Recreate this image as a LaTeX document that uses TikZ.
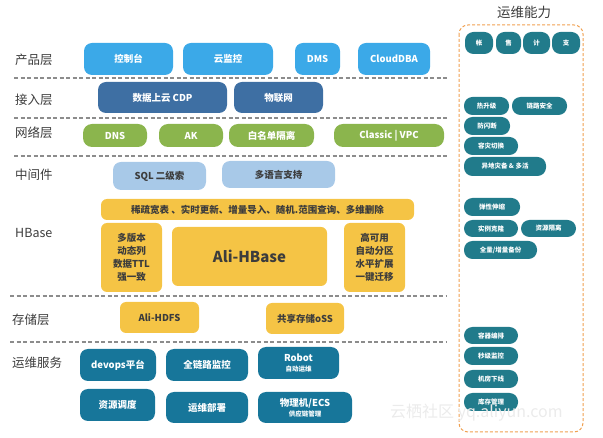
\documentclass[tikz,border=0pt]{standalone}
\usepackage{fontspec}
\setmainfont{Noto Sans CJK SC}
\usetikzlibrary{positioning}
\definecolor{cprod}{RGB}{59,169,232}
\definecolor{cacc}{RGB}{62,111,163}
\definecolor{cnet}{RGB}{139,181,77}
\definecolor{cmid}{RGB}{168,201,232}
\definecolor{cyel}{RGB}{245,196,69}
\definecolor{cops}{RGB}{23,118,154}
\definecolor{cright}{RGB}{33,123,139}
\definecolor{ctext}{RGB}{60,60,60}
\definecolor{cline}{RGB}{140,140,140}
\definecolor{corange}{RGB}{240,160,80}
\newcommand\bx[7]{\node[#1, minimum width={(#5-#3)*1pt}, minimum height={(#6-#4)*1pt}] (#2) at ({(#3+#5)/2},{(#4+#6)/2}) {#7};}
\tikzset{
  base/.style={inner sep=0pt, outer sep=0pt, rounded corners=8pt, align=center, font=\bfseries\fontsize{9.5}{11}\selectfont},
  prod/.style={base, fill=cprod, text=white},
  acc/.style={base, fill=cacc, text=white},
  net/.style={base, fill=cnet, text=white, rounded corners=9pt},
  mid/.style={base, fill=cmid, text=ctext},
  yel/.style={base, fill=cyel, text=ctext, rounded corners=6pt},
  yelmulti/.style={yel, font=\bfseries\fontsize{9.5}{13}\selectfont},
  ops/.style={base, fill=cops, text=white},
  capbox/.style={base, fill=cright, text=white, rounded corners=8.5pt, font=\bfseries\fontsize{6.5}{7}\selectfont},
  layer/.style={anchor=west, text=ctext, inner sep=0pt, font=\fontsize{12.5}{14}\selectfont},
  sepline/.style={cline, line width=1.2pt, dash pattern=on 4pt off 2.5pt},
}
\begin{document}
\begin{tikzpicture}[x=1pt,y=-1pt]
\useasboundingbox (0,0) rectangle (603,438);
% layer labels
\node[layer] (lprod) at (15,60) {产品层};
\node[layer] (lacc) at (15,100) {接入层};
\node[layer] (lnet) at (15,133) {网络层};
\node[layer] (lmid) at (15,175) {中间件};
\node[layer] (lhb) at (15,233) {HBase};
\node[layer] (lsto) at (12,320) {存储层};
\node[layer] (lops) at (12,363) {运维服务};
% separators
\coordinate (s1a) at (14,78); \coordinate (s1b) at (447,78);
\coordinate (s2a) at (14,118); \coordinate (s2b) at (447,118);
\coordinate (s3a) at (14,156); \coordinate (s3b) at (447,156);
\coordinate (s4a) at (10,296); \coordinate (s4b) at (447,296);
\coordinate (s5a) at (10,342); \coordinate (s5b) at (447,342);
\draw[sepline] (s1a) -- (s1b);
\draw[sepline] (s2a) -- (s2b);
\draw[sepline] (s3a) -- (s3b);
\draw[sepline] (s4a) -- (s4b);
\draw[sepline] (s5a) -- (s5b);
% product layer
\bx{prod}{p1}{84}{43}{173}{75}{控制台}
\bx{prod}{p2}{183}{43}{273}{75}{云监控}
\bx{prod}{p3}{295}{43}{340}{75}{DMS}
\bx{prod}{p4}{358}{43}{430}{75}{CloudDBA}
% access layer
\bx{acc}{a1}{98}{82}{227}{113}{数据上云 CDP}
\bx{acc}{a2}{234}{82}{323}{113}{物联网}
% network layer
\bx{net}{n1}{83}{124}{147}{147}{DNS}
\bx{net}{n2}{159}{124}{223}{147}{AK}
\bx{net}{n3}{229}{124}{314}{147}{白名单隔离}
\bx{net}{n4}{334}{124}{444}{147}{Classic | VPC}
% middleware
\bx{mid}{m1}{113}{162}{206}{190}{SQL 二级索}
\bx{mid}{m2}{222}{161}{335}{188}{多语言支持}
% HBase
\bx{yel}{h0}{101}{199}{414}{220}{稀疏宽表 、实时更新、增量导入、随机.范围查询、多维删除}
\bx{yelmulti}{h1}{101}{223}{162}{292}{多版本\\动态列\\数据TTL\\强一致}
\bx{yel}{h2}{172}{227}{327}{286}{\fontsize{15}{17}\selectfont Ali-HBase}
\bx{yelmulti}{h3}{344}{223}{405}{292}{高可用\\自动分区\\水平扩展\\一键迁移}
% storage
\bx{yel}{st1}{120}{302}{199}{333}{Ali-HDFS}
\bx{yel}{st2}{266}{303}{344}{334}{共享存储oSS}
% ops
\bx{ops}{o1}{80}{349}{156}{381}{devops平台}
\bx{ops}{o2}{166}{349}{248}{381}{全链路监控}
\bx{ops}{o3}{258}{347}{339}{379}{Robot\\[-1pt]{\fontsize{6.5}{7}\selectfont 自动运维}}
\bx{ops}{o4}{80}{389}{155}{421}{资源调度}
\bx{ops}{o5}{166}{392}{248}{423}{运维部署}
\bx{ops}{o6}{258}{392}{352}{423}{物理机/ECS\\[-1pt]{\fontsize{6.5}{7}\selectfont 供应链管理}}
% right panel
\node[text=ctext, font=\fontsize{13.5}{15}\selectfont, inner sep=0pt] (rtitle) at (524,12) {运维能力};
\draw[corange, line width=1pt, dash pattern=on 3pt off 2pt, rounded corners=9pt] (459,25) rectangle (583,432);
\bx{capbox}{r1}{465}{32}{493}{54}{帐}
\bx{capbox}{r2}{496}{32}{521}{54}{售}
\bx{capbox}{r3}{523}{32}{550}{54}{计}
\bx{capbox}{r4}{552}{32}{580}{54}{支}
\bx{capbox}{r5}{464}{97}{509}{115}{热升级}
\bx{capbox}{r6}{512}{97}{567}{115}{链路安全}
\bx{capbox}{r7}{464}{117}{510}{135}{防闪断}
\bx{capbox}{r8}{464}{137}{518}{155}{容灾切换}
\bx{capbox}{r9}{464}{157}{546}{176}{异地灾备 \& 多活}
\bx{capbox}{r10}{464}{198}{520}{216}{弹性伸缩}
\bx{capbox}{r11}{464}{220}{518}{237}{实例克隆}
\bx{capbox}{r12}{521}{220}{576}{237}{资源隔离}
\bx{capbox}{r13}{464}{241}{537}{259}{全量/增量备份}
\bx{capbox}{r14}{464}{327}{518}{344}{容器编排}
\bx{capbox}{r15}{464}{347}{518}{365}{秒级监控}
\bx{capbox}{r16}{464}{370}{518}{388}{机房下线}
\bx{capbox}{r17}{464}{393}{518}{411}{库存管理}
% watermark
\node[text=black!8, font=\fontsize{16}{18}\selectfont, inner sep=0pt, anchor=west] (wm) at (390,413) {云栖社区 yq.aliyun.com};
\end{tikzpicture}
\end{document}
